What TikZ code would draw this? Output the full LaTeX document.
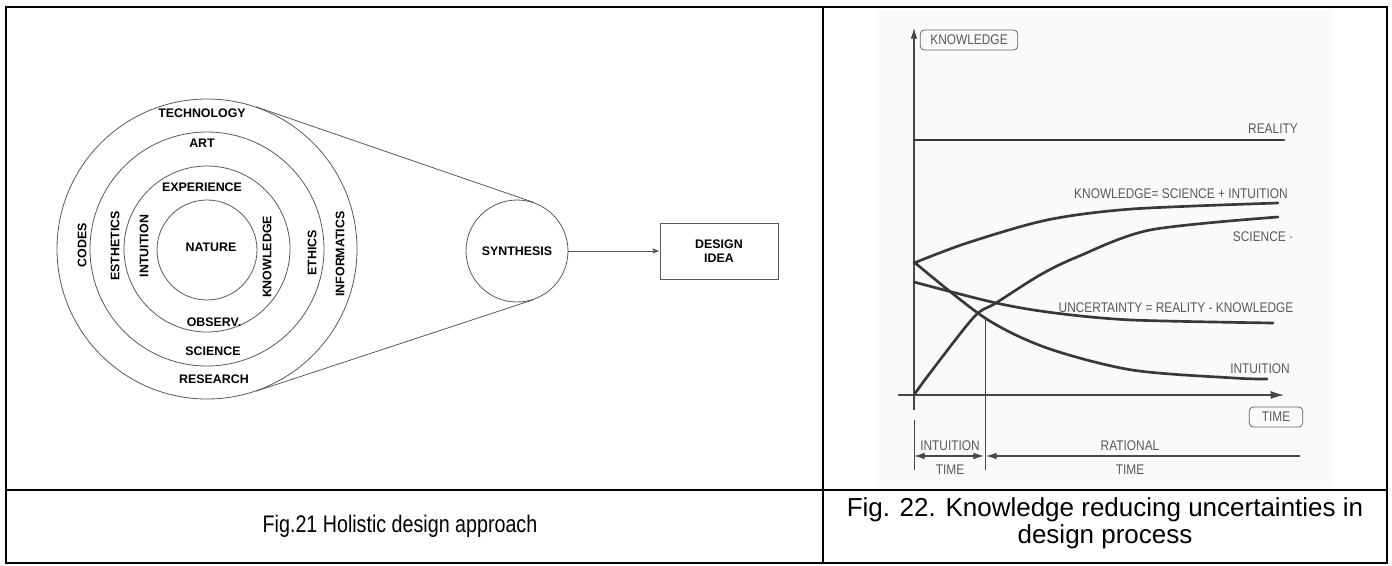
\documentclass[tikz,border=0pt]{standalone}
\usepackage{fontspec}
\setmainfont{Liberation Sans}
\newfontfamily\handfont[FakeStretch=0.85]{Liberation Sans}
\newfontfamily\narrowfont[FakeStretch=0.82]{Liberation Sans}
\usetikzlibrary{arrows.meta}

\begin{document}
\begin{tikzpicture}[x=0.75pt,y=-0.75pt]
\tikzset{ring/.style={draw=black!65, line width=0.6pt, circle, inner sep=0pt},
  ringlabel/.style={font=\fontsize{9.3}{11}\selectfont\bfseries, inner sep=0pt},
  sidelabel/.style={ringlabel, rotate=90},
  frame/.style={line width=2.2pt},
  curve/.style={line width=2pt, black!78, line cap=round},
  axisline/.style={line width=0.8pt, black!72},
  handlabel/.style={font=\handfont\fontsize{10.5}{12}\selectfont, text=black!65, inner sep=0pt},
  tagbox/.style={handlabel, draw=black!60, rounded corners=3pt, line width=0.6pt, minimum height=15pt},
  caption/.style={font=\fontsize{19.5}{20.3}\selectfont, align=center}}
\useasboundingbox (0,0) rectangle (1392,565);
\fill[black!2] (877,10) rectangle (1333,487);
\draw[frame] (6,7) rectangle (1387,563);
\draw[frame] (823,7) -- (823,563);
\draw[frame] (6,490) -- (1387,490);
\node[ring, minimum size=225pt] (ring4) at (207,249) {};
\node[ring, minimum size=175.5pt] (ring3) at (207,249) {};
\node[ring, minimum size=124.5pt] (ring2) at (207,249) {};
\node[ring, minimum size=75pt] (ring1) at (207,250) {};
\node[ringlabel] (nature) at (211,247) {NATURE};
\node[ringlabel] (exper) at (202,187) {EXPERIENCE};
\node[ringlabel] (observ) at (214,322) {OBSERV.};
\node[sidelabel] (intuit) at (144,246) {INTUITION};
\node[sidelabel] (knowl) at (267,257) {KNOWLEDGE};
\node[ringlabel] (art) at (202,143) {ART};
\node[ringlabel] (science) at (213,351) {SCIENCE};
\node[sidelabel] (esthet) at (115,246) {ESTHETICS};
\node[sidelabel] (ethics) at (312,253) {ETHICS};
\node[ringlabel] (techno) at (202,113) {TECHNOLOGY};
\node[ringlabel] (research) at (214,379) {RESEARCH};
\node[sidelabel] (codes) at (82,245) {CODES};
\node[sidelabel] (inform) at (340,254) {INFORMATICS};
\node[ring, minimum size=76.5pt, font=\fontsize{9.3}{11}\selectfont\bfseries] (synth) at (517,251) {SYNTHESIS};
\node[draw=black!65, line width=0.6pt, minimum width=88.5pt, minimum height=42pt, align=center,
  font=\fontsize{9.3}{10.5}\selectfont\bfseries] (idea) at (719,251) {DESIGN\\IDEA};
\draw[black!65, line width=0.6pt] (ring4.71.4) -- (synth.71.4);
\draw[black!65, line width=0.6pt] (ring4.-71.4) -- (synth.-71.4);
\draw[black!65, line width=0.6pt, -{Latex[length=5pt,width=4pt]}] (synth) -- (idea);
\coordinate (O) at (914,395);
\coordinate (ytop) at (914,28);
\coordinate (ybot) at (914,410);
\coordinate (xleft) at (898,395);
\coordinate (xright) at (1284,395);
\draw[axisline, -{Latex[length=8pt,width=5pt]}] (ybot) -- (ytop);
\draw[axisline, -{Latex[length=10pt,width=6pt]}] (xleft) -- (xright);
\node[tagbox, minimum width=73pt] (kbox) at (969,40) {KNOWLEDGE};
\node[tagbox, minimum width=40pt] (tbox) at (1276,417) {TIME};
\draw[curve] (914,140) -- (1284,140);
\node[handlabel] (reality) at (1273,129) {REALITY};
\draw[curve] plot[smooth] coordinates {(914,263) (967,243) (1047,220) (1132,209) (1278,203)};
\node[handlabel] (klabel) at (1181,194) {KNOWLEDGE= SCIENCE + INTUITION};
\draw[curve] plot[smooth] coordinates {(914,395) (930,373) (974,317) (996,303) (1040,275) (1077,257) (1150,230) (1278,217)};
\node[handlabel] (slabel) at (1263,237) {SCIENCE \textperiodcentered};
\draw[curve] plot[smooth] coordinates {(914,282) (996,303) (1055,313) (1132,320) (1273,323)};
\node[handlabel] (ulabel) at (1176,308) {UNCERTAINTY = REALITY - KNOWLEDGE};
\draw[curve] plot[smooth] coordinates {(914,262) (985,318) (1047,348) (1132,370) (1234,378) (1267,379)};
\node[handlabel] (ilabel) at (1260,369) {INTUITION};
\coordinate (t0top) at (914,420);
\coordinate (t0bot) at (914,470);
\coordinate (t1top) at (985,320);
\coordinate (t1bot) at (985,470);
\coordinate (tend) at (1300,456);
\draw[axisline, line width=0.6pt] (t0top) -- (t0bot);
\draw[axisline, line width=0.6pt] (t1top) -- (t1bot);
\draw[axisline, {Latex[length=8pt,width=5pt]}-{Latex[length=8pt,width=5pt]}] (914,456) -- (984,456);
\draw[axisline, {Latex[length=8pt,width=5pt]}-] (986,456) -- (tend);
\node[handlabel] (itime) at (950,446) {INTUITION};
\node[handlabel] (itime2) at (950,470) {TIME};
\node[handlabel] (rtime) at (1130,446) {RATIONAL};
\node[handlabel] (rtime2) at (1130,470) {TIME};
\node[caption, font=\narrowfont\fontsize{18}{20}\selectfont] (cap21) at (400,526) {Fig.21 Holistic design approach};
\node[caption] (cap22) at (1105,523) {Fig. 22. Knowledge reducing uncertainties in\\design process};
\end{tikzpicture}
\end{document}
